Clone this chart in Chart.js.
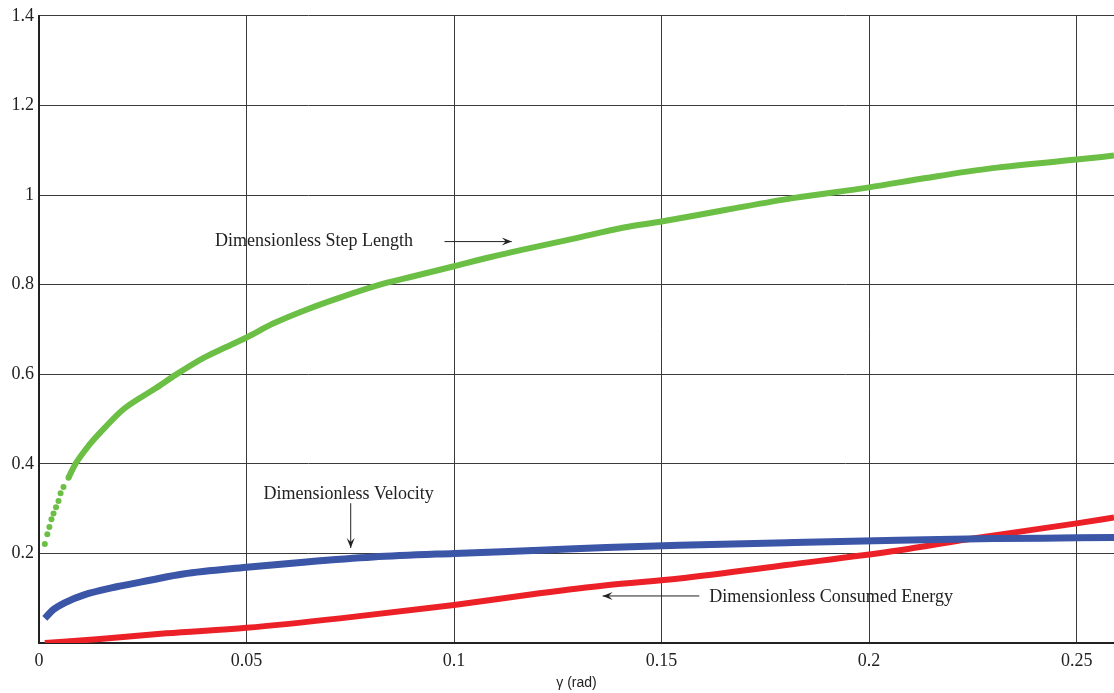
<!DOCTYPE html>
<html>
<head>
<meta charset="utf-8">
<title>Dimensionless gait quantities vs slope angle</title>
<script src="https://cdn.jsdelivr.net/npm/chart.js@4.4.1/dist/chart.umd.min.js"></script>
<style>
  html, body { margin: 0; padding: 0; background: #fff; }
  #wrap { width: 1114px; height: 693px; }
</style>
</head>
<body>
<div id="wrap"><canvas id="chartGait" width="1114" height="693"></canvas></div>
<script>
// slope angle gamma (rad) and the three dimensionless curves
const gammaStep = [0.0014, 0.002, 0.0025, 0.003, 0.0035, 0.0041, 0.0047, 0.0052, 0.0059, 0.0071, 0.0088, 0.012, 0.016, 0.020, 0.024, 0.028, 0.033, 0.040, 0.045, 0.050, 0.0564, 0.0644, 0.0725, 0.083, 0.090, 0.100, 0.1086, 0.1166, 0.1286, 0.1406, 0.150, 0.1656, 0.1816, 0.200, 0.2137, 0.2297, 0.250, 0.259];
const stepLength = [0.221, 0.243, 0.259, 0.276, 0.289, 0.303, 0.317, 0.334, 0.348, 0.369, 0.400, 0.441, 0.482, 0.519, 0.545, 0.568, 0.599, 0.638, 0.660, 0.682, 0.713, 0.744, 0.771, 0.802, 0.818, 0.841, 0.861, 0.878, 0.902, 0.927, 0.941, 0.967, 0.993, 1.017, 1.038, 1.060, 1.079, 1.088];

const gammaVel = [0.0014, 0.0034, 0.0067, 0.0107, 0.0187, 0.0267, 0.0347, 0.050, 0.0644, 0.0805, 0.100, 0.1206, 0.1367, 0.1543, 0.180, 0.207, 0.230, 0.250, 0.259];
const velocity = [0.055, 0.074, 0.092, 0.107, 0.1255, 0.140, 0.154, 0.169, 0.181, 0.192, 0.200, 0.207, 0.213, 0.218, 0.224, 0.2296, 0.233, 0.2347, 0.2356];

const gammaEnergy = [0.0014, 0.0147, 0.0307, 0.050, 0.0725, 0.100, 0.1206, 0.1367, 0.1543, 0.180, 0.2073, 0.2234, 0.250, 0.259];
const energy = [0.000, 0.009, 0.0216, 0.034, 0.055, 0.085, 0.111, 0.129, 0.144, 0.174, 0.207, 0.231, 0.267, 0.280];

const xTicks = [0, 0.05, 0.1, 0.15, 0.2, 0.25];
const yTicks = [0, 0.2, 0.4, 0.6, 0.8, 1, 1.2, 1.4];

// text labels with arrows, placed in data units
const notes = [
    { text: 'Dimensionless Step Length', x: 0.0424, y: 0.896, align: 'left', arrow: [0.0977, 0.896, 0.1139, 0.896] },
    { text: 'Dimensionless Velocity', x: 0.0746, y: 0.332, align: 'center', arrow: [0.0751, 0.312, 0.0751, 0.212] },
    { text: 'Dimensionless Consumed Energy', x: 0.1615, y: 0.1025, align: 'left', arrow: [0.1591, 0.105, 0.1358, 0.105] }
];

const serif = "'Liberation Serif', 'Times New Roman', serif";
const toXY = (xs, ys) => xs.map((x, i) => ({ x: x, y: ys[i] }));

const notesPlugin = {
    id: 'notes',
    afterDatasetsDraw(chart) {
        const ctx = chart.ctx;
        const xs = chart.scales.x, ys = chart.scales.y;
        ctx.save();
        ctx.fillStyle = '#222';
        ctx.strokeStyle = '#222';
        ctx.lineWidth = 1;
        ctx.font = '18px ' + serif;
        ctx.textBaseline = 'middle';
        notes.forEach(n => {
            ctx.textAlign = n.align;
            ctx.fillText(n.text, xs.getPixelForValue(n.x), ys.getPixelForValue(n.y));
            const x1 = xs.getPixelForValue(n.arrow[0]), y1 = ys.getPixelForValue(n.arrow[1]);
            const x2 = xs.getPixelForValue(n.arrow[2]), y2 = ys.getPixelForValue(n.arrow[3]);
            ctx.beginPath();
            ctx.moveTo(x1, y1);
            ctx.lineTo(x2, y2);
            ctx.stroke();
            const a = Math.atan2(y2 - y1, x2 - x1);
            const L = 10, W = 4;
            ctx.beginPath();
            ctx.moveTo(x2, y2);
            ctx.lineTo(x2 - L * Math.cos(a) + W * Math.sin(a), y2 - L * Math.sin(a) - W * Math.cos(a));
            ctx.lineTo(x2 - 0.6 * L * Math.cos(a), y2 - 0.6 * L * Math.sin(a));
            ctx.lineTo(x2 - L * Math.cos(a) - W * Math.sin(a), y2 - L * Math.sin(a) + W * Math.cos(a));
            ctx.closePath();
            ctx.fill();
        });
        ctx.restore();
    }
};

const ctxGait = document.getElementById('chartGait').getContext('2d');
const chartGait = new Chart(ctxGait, {
    type: 'line',
    data: {
        datasets: [{
            label: 'Dimensionless Step Length',
            data: toXY(gammaStep, stepLength),
            borderColor: '#6cbf45',
            backgroundColor: '#6cbf45',
            borderWidth: 6,
            pointRadius: c => (c.parsed && c.parsed.x < 0.0075) ? 3 : 0,
            pointBorderWidth: 0,
            segment: {
                borderColor: c => c.p1.parsed.x <= 0.0072 ? 'rgba(0,0,0,0)' : '#6cbf45'
            },
            cubicInterpolationMode: 'monotone'
        }, {
            label: 'Dimensionless Velocity',
            data: toXY(gammaVel, velocity),
            borderColor: '#3b55a7',
            borderWidth: 7,
            pointRadius: 0,
            cubicInterpolationMode: 'monotone'
        }, {
            label: 'Dimensionless Consumed Energy',
            data: toXY(gammaEnergy, energy),
            borderColor: '#ec2128',
            borderWidth: 6,
            pointRadius: 0,
            cubicInterpolationMode: 'monotone'
        }]
    },
    options: {
        responsive: false,
        devicePixelRatio: 1,
        animation: false,
        layout: { autoPadding: false, padding: { top: 15, right: 0, left: 0, bottom: 0 } },
        plugins: {
            legend: { display: false },
            tooltip: { enabled: false }
        },
        scales: {
            x: {
                type: 'linear',
                min: 0,
                max: 0.259,
                afterBuildTicks: s => { s.ticks = xTicks.map(v => ({ value: v })); },
                afterFit: s => { s.height = 50; },
                grid: { color: '#3a3a3a', lineWidth: 1, drawTicks: false },
                border: { color: '#222', width: 2 },
                ticks: {
                    padding: 7,
                    color: '#222',
                    font: { family: serif, size: 18 },
                    maxRotation: 0,
                    callback: v => String(Math.round(v * 100) / 100)
                },
                title: {
                    display: true,
                    text: 'γ (rad)',
                    color: '#222',
                    font: { family: "'Liberation Sans', Arial, sans-serif", size: 14 },
                    padding: { top: 0, bottom: 1 }
                }
            },
            y: {
                min: 0,
                max: 1.4,
                afterBuildTicks: s => { s.ticks = yTicks.map(v => ({ value: v })); },
                afterFit: s => { s.width = 39; },
                grid: { color: '#3a3a3a', lineWidth: 1, drawTicks: false },
                border: { color: '#222', width: 2 },
                ticks: {
                    padding: 5,
                    color: '#222',
                    font: { family: serif, size: 18 },
                    callback: v => v === 0 ? '' : String(Math.round(v * 10) / 10)
                }
            }
        }
    },
    plugins: [notesPlugin]
});
</script>
</body>
</html>
